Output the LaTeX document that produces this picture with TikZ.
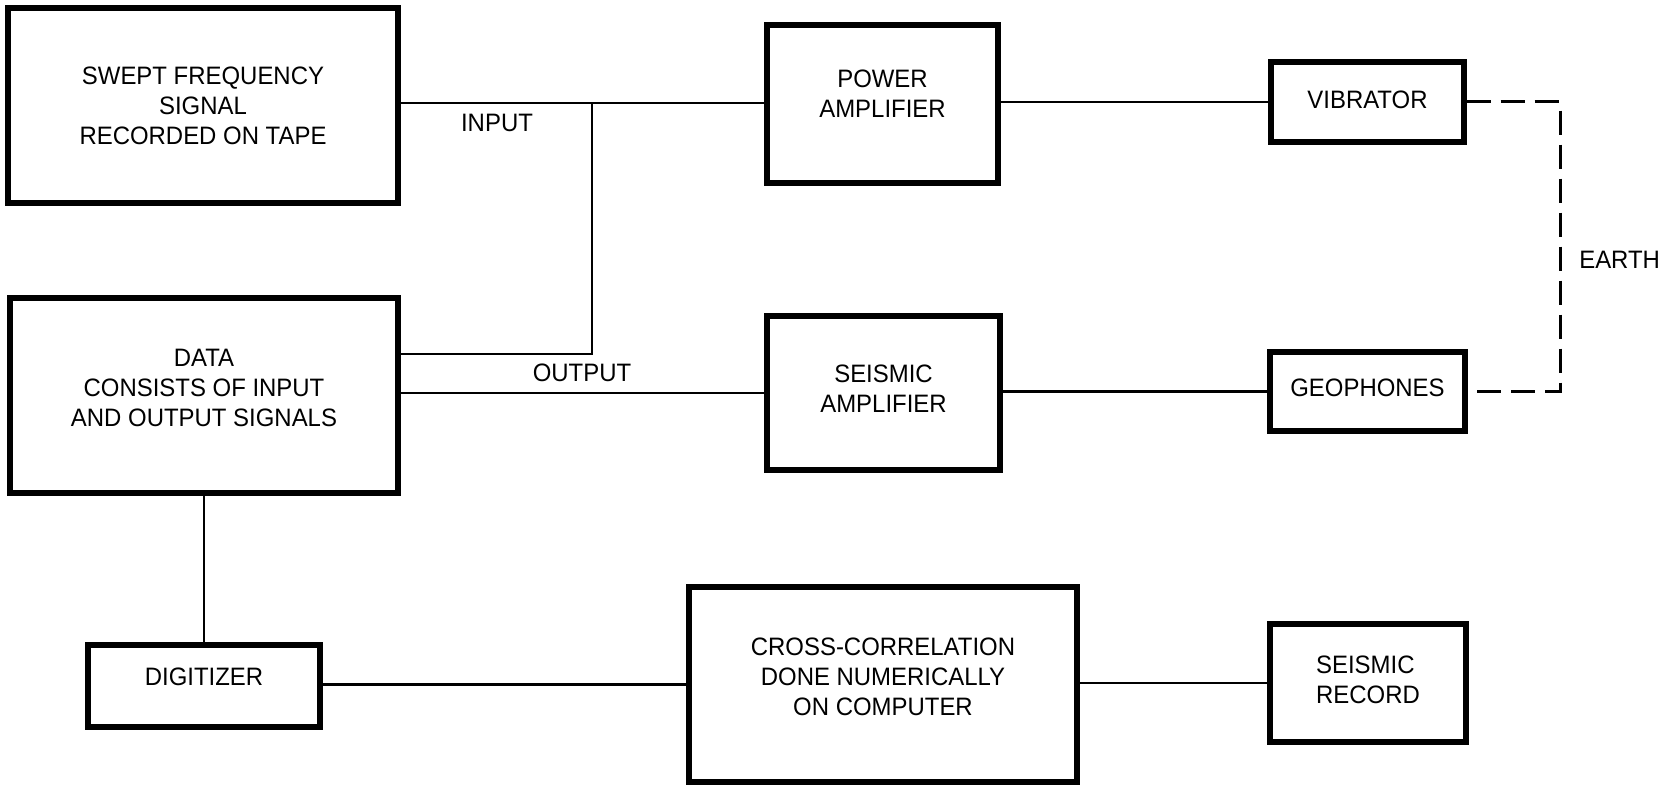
\documentclass[tikz,border=0pt]{standalone}
\usepackage{fontspec}
\setmainfont{Liberation Sans}[FakeStretch=0.95]
\usetikzlibrary{calc}
\tikzset{
  every picture/.style={line width=1.3pt, font=\fontsize{12.6}{15}\selectfont},
  box/.style={draw, line width=2.6pt, align=center, inner sep=0pt},
  wire/.style={line width=1.3pt},
  earthline/.style={line width=1.5pt, dash pattern=on 12pt off 5pt},
  lbl/.style={inner sep=0pt},
}
\begin{document}
\begin{tikzpicture}[x=0.5pt, y=-0.5pt]
  \useasboundingbox (0,0) rectangle (1667,786);
  \node[box, minimum width=195pt, minimum height=97.5pt] (tape) at (203,105.5) {SWEPT FREQUENCY\\SIGNAL\\RECORDED ON TAPE};
  \node[box, text depth=7.5pt, minimum width=194pt, minimum height=97.5pt] (data) at (204,395.5) {DATA\\CONSISTS OF INPUT\\AND OUTPUT SIGNALS};
  \node[box, text depth=10pt, minimum width=115.5pt, minimum height=79pt] (power) at (882.5,104) {POWER\\AMPLIFIER};
  \node[box, text depth=4pt, minimum width=116.5pt, minimum height=77pt] (seisamp) at (883.5,393) {SEISMIC\\AMPLIFIER};
  \node[box, text depth=2pt, minimum width=96.5pt, minimum height=40pt] (vib) at (1367.5,102) {VIBRATOR};
  \node[box, text depth=3.5pt, minimum width=97.5pt, minimum height=39.5pt] (geo) at (1367.5,391.5) {GEOPHONES};
  \node[box, text depth=9pt, minimum width=116pt, minimum height=41pt] (digit) at (204,686) {DIGITIZER};
  \node[box, text depth=7.5pt, minimum width=194pt, minimum height=97.5pt] (cross) at (883,684.5) {CROSS-CORRELATION\\DONE NUMERICALLY\\ON COMPUTER};
  \node[box, align=left, text depth=3pt, minimum width=98pt, minimum height=59pt] (record) at (1368,683) {SEISMIC\\RECORD};

  \coordinate (tap) at (592,103);
  \coordinate (tapend) at (592,354);
  \coordinate (earth) at (1560,101);

  \draw[wire] (tape.east |- tap) -- (power.west |- tap);
  \draw[wire] (tap) -- (tapend) -- (data.east |- tapend);
  \draw[wire] (data.east |- seisamp.west) -- (seisamp.west);
  \draw[wire] (power.east |- vib.west) -- (vib.west);
  \draw[wire] (seisamp.east |- geo.west) -- (geo.west);
  \draw[earthline] (vib.east) -- (vib.east -| earth) -- (geo.east -| earth) -- (geo.east);
  \draw[wire] (digit.north) -- (digit.north |- data.south);
  \draw[wire] (digit.east |- cross.west) -- (cross.west);
  \draw[wire] (cross.east |- record.west) -- (record.west);

  \node[lbl] (inlbl) at (497,123) {INPUT};
  \node[lbl] (outlbl) at (582,373) {OUTPUT};
  \node[lbl, anchor=west] (earthlbl) at (1578,260) {EARTH};
\end{tikzpicture}
\end{document}
